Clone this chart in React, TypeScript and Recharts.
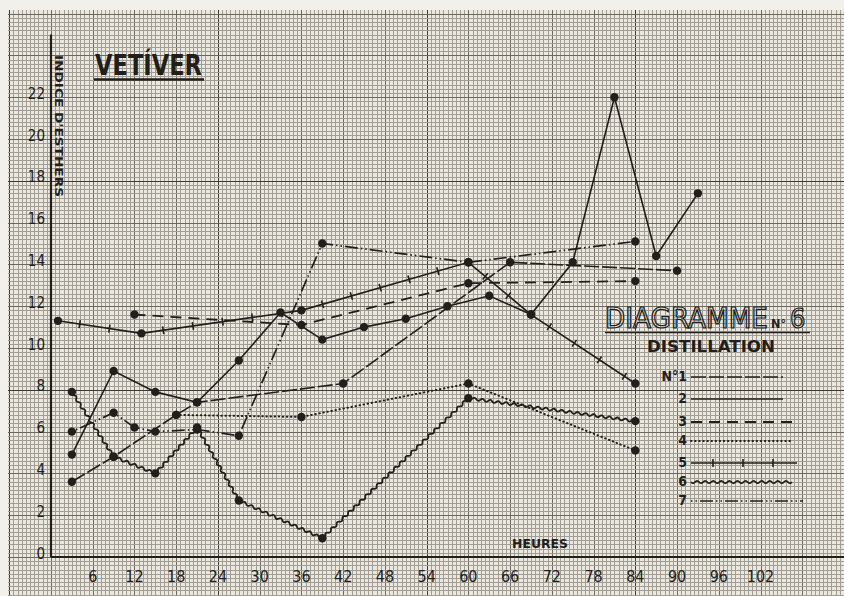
import React from "react";
import { LineChart, Line, XAxis, YAxis, Legend } from "recharts";

const HOUR_TICKS = [6, 12, 18, 24, 30, 36, 42, 48, 54, 60, 66, 72, 78, 84, 90, 96, 102];
const INDEX_TICKS = [0, 2, 4, 6, 8, 10, 12, 14, 16, 18, 20, 22];

const s1Hours = [3, 9, 18, 21, 42, 66, 90];
const s1Values = [3.6, 4.8, 6.8, 7.4, 8.3, 14.1, 13.7];

const s2Hours = [3, 9, 15, 21, 27, 33, 39, 45, 51, 57, 63, 69, 75, 81, 87, 93];
const s2Values = [4.9, 8.9, 7.9, 7.4, 9.4, 11.7, 10.4, 11.0, 11.4, 12.0, 12.5, 11.6, 14.1, 22.0, 14.4, 17.4];

const s3Hours = [12, 36, 60, 84];
const s3Values = [11.6, 11.1, 13.1, 13.2];

const s4Hours = [18, 36, 60, 84];
const s4Values = [6.8, 6.7, 8.3, 5.1];

const s5Hours = [1, 13, 36, 60, 69, 84];
const s5Values = [11.3, 10.7, 11.8, 14.1, 11.6, 8.3];

const s6Hours = [3, 9, 15, 21, 27, 39, 60, 84];
const s6Values = [7.9, 4.8, 4.0, 6.2, 2.7, 0.9, 7.6, 6.5];

const s7Hours = [3, 9, 12, 15, 21, 27, 39, 60, 84];
const s7Values = [6.0, 6.9, 6.2, 6.0, 6.1, 5.8, 15.0, 14.1, 15.1];

const toPoints = (h: number[], v: number[]) => h.map((x, i) => ({ h: x, v: v[i] }));

const W = 844;
const H = 596;
const LEFT = 51;
const TOP = 34.5;
const BOTTOM = 557;
const X_MAX = 114;
const Y_MAX = 25;
const INK = "#221e1b";
const HAND = "'Liberation Sans Narrow', 'DejaVu Sans Condensed', 'Liberation Sans', sans-serif";

// trait ondulé (distillation 6)
function wavyCurve(context: any) {
  let pts: number[][] = [];
  return {
    areaStart() {},
    areaEnd() {},
    lineStart() {
      pts = [];
    },
    point(x: number, y: number) {
      pts.push([x, y]);
    },
    lineEnd() {
      if (!pts.length) return;
      context.moveTo(pts[0][0], pts[0][1]);
      for (let i = 1; i < pts.length; i++) {
        const [x0, y0] = pts[i - 1];
        const [x1, y1] = pts[i];
        const dx = x1 - x0;
        const dy = y1 - y0;
        const len = Math.hypot(dx, dy) || 1;
        const nx = -dy / len;
        const ny = dx / len;
        const n = Math.max(2, Math.round(len / 4));
        for (let k = 0; k < n; k++) {
          const tm = (k + 0.5) / n;
          const t1 = (k + 1) / n;
          const s = k % 2 === 0 ? 2.4 : -2.4;
          context.quadraticCurveTo(x0 + dx * tm + nx * s, y0 + dy * tm + ny * s, x0 + dx * t1, y0 + dy * t1);
        }
      }
    },
  };
}

// trait plein barré de petites croix (distillation 5)
function crossCurve(context: any) {
  let pts: number[][] = [];
  return {
    areaStart() {},
    areaEnd() {},
    lineStart() {
      pts = [];
    },
    point(x: number, y: number) {
      pts.push([x, y]);
    },
    lineEnd() {
      if (!pts.length) return;
      context.moveTo(pts[0][0], pts[0][1]);
      for (let i = 1; i < pts.length; i++) context.lineTo(pts[i][0], pts[i][1]);
      for (let i = 1; i < pts.length; i++) {
        const [x0, y0] = pts[i - 1];
        const [x1, y1] = pts[i];
        const dx = x1 - x0;
        const dy = y1 - y0;
        const len = Math.hypot(dx, dy) || 1;
        const nx = -dy / len;
        const ny = dx / len;
        for (let d = 22; d < len - 8; d += 30) {
          const cx = x0 + (dx * d) / len;
          const cy = y0 + (dy * d) / len;
          context.moveTo(cx - nx * 4, cy - ny * 4);
          context.lineTo(cx + nx * 4, cy + ny * 4);
        }
      }
    },
  };
}

const STYLES: Record<string, any> = {
  "1": { dash: "15 3", width: 1.6 },
  "2": { width: 1.6 },
  "3": { dash: "11 7", width: 1.8 },
  "4": { dash: "0.5 3.6", width: 2, cap: "round" },
  "5": { width: 1.6, curve: crossCurve },
  "6": { width: 1.8, curve: wavyCurve },
  "7": { dash: "1.5 3 1.5 3 13 3", width: 1.7 },
};

const SERIES = [
  { name: "1", data: toPoints(s1Hours, s1Values) },
  { name: "2", data: toPoints(s2Hours, s2Values) },
  { name: "3", data: toPoints(s3Hours, s3Values) },
  { name: "4", data: toPoints(s4Hours, s4Values) },
  { name: "5", data: toPoints(s5Hours, s5Values) },
  { name: "6", data: toPoints(s6Hours, s6Values) },
  { name: "7", data: toPoints(s7Hours, s7Values) },
];

function pathFrom(curve: any, pts: number[][]) {
  let d = "";
  const ctx = {
    moveTo: (x: number, y: number) => (d += `M${x},${y}`),
    lineTo: (x: number, y: number) => (d += `L${x},${y}`),
    quadraticCurveTo: (cx: number, cy: number, x: number, y: number) => (d += `Q${cx},${cy},${x},${y}`),
    closePath: () => (d += "Z"),
  };
  const c = curve(ctx);
  c.lineStart();
  pts.forEach((p) => c.point(p[0], p[1]));
  c.lineEnd();
  return d;
}

// papier millimétré
const Paper = () => {
  const mmX = (6 * (W - LEFT)) / X_MAX / 10;
  const mmY = ((2 * (BOTTOM - TOP)) / Y_MAX) / 10;
  const lines: React.ReactNode[] = [];
  const kind = (k: number) => ((((k - 40) % 50) + 50) % 50 === 0 ? 2 : k % 10 === 0 ? 1 : 0);
  const col = ["#a29d94", "#6c675f", "#3d3935"];
  const wid = [1, 1, 1.6];
  for (let k = Math.floor((8 - LEFT) / mmX); k <= Math.ceil((W - LEFT) / mmX); k++) {
    const x = Math.round(LEFT + k * mmX) + 0.5;
    if (x < 8) continue;
    const t = kind(k);
    lines.push(<line key={"v" + k} x1={x} x2={x} y1={10} y2={H} stroke={col[t]} strokeWidth={wid[t]} shapeRendering="crispEdges" />);
  }
  for (let k = Math.floor((BOTTOM - H) / mmY); k <= Math.ceil((BOTTOM - 10) / mmY); k++) {
    const y = Math.round(BOTTOM - k * mmY) + 0.5;
    if (y < 10) continue;
    const t = kind(k);
    lines.push(<line key={"h" + k} x1={8} x2={W} y1={y} y2={y} stroke={col[t]} strokeWidth={wid[t]} shapeRendering="crispEdges" />);
  }
  return (
    <svg width={W} height={H} style={{ position: "absolute", left: 0, top: 0 }}>
      <rect x={0} y={0} width={W} height={H} fill="#f2f0eb" />
      <rect x={8} y={10} width={W - 8} height={H - 10} fill="#ebe8e0" />
      {lines}
      <text
        x={95}
        y={75}
        fontFamily={HAND}
        fontSize={29}
        fontWeight={700}
        textLength={107}
        lengthAdjust="spacingAndGlyphs"
        fill={INK}
      >
        VETÍVER
      </text>
      <line x1={94} x2={204} y1={79.5} y2={79.5} stroke={INK} strokeWidth={2.4} />
      <text
        transform="translate(55,55) rotate(90)"
        fontFamily={HAND}
        fontSize={10}
        fontWeight={700}
        textLength={142}
        lengthAdjust="spacingAndGlyphs"
        fill={INK}
      >
        INDICE D'ESTHERS
      </text>
      <text
        x={512}
        y={548}
        fontFamily={HAND}
        fontSize={12}
        fontWeight={700}
        textLength={56}
        lengthAdjust="spacingAndGlyphs"
        fill={INK}
      >
        HEURES
      </text>
    </svg>
  );
};

const YTick = (props: any) => (
  <text x={45} y={props.y + 1.5} textAnchor="end" fontFamily={HAND} fontSize={15} fill={INK}>
    {props.payload.value}
  </text>
);

const XTick = (props: any) => (
  <text x={props.x} y={BOTTOM + 25} textAnchor="middle" fontFamily={HAND} fontSize={16} fill={INK}>
    {props.payload.value}
  </text>
);

const ROW_Y = [81, 103, 126, 145, 167, 186, 205];
const ROW_END = [187, 187, 196, 196, 201, 196, 207];

const renderLegend = (props: any) => {
  const items = props.payload || [];
  return (
    <svg width={248} height={230}>
      <text
        x={9}
        y={32}
        fontFamily={HAND}
        fontSize={28}
        textLength={163}
        lengthAdjust="spacingAndGlyphs"
        fill="none"
        stroke={INK}
        strokeWidth={1.2}
      >
        DIAGRAMME
      </text>
      <text x={175} y={32} fontFamily={HAND} fontSize={12} fontWeight={700} textLength={15} lengthAdjust="spacingAndGlyphs" fill={INK}>
        N°
      </text>
      <text x={194} y={32} fontFamily={HAND} fontSize={27} fill="none" stroke={INK} strokeWidth={1.2}>
        6
      </text>
      <line x1={9} x2={214} y1={36.5} y2={36.5} stroke={INK} strokeWidth={1.4} />
      <text
        x={51}
        y={56}
        fontFamily={HAND}
        fontSize={15}
        fontWeight={700}
        textLength={128}
        lengthAdjust="spacingAndGlyphs"
        fill={INK}
      >
        DISTILLATION
      </text>
      {items.map((it: any, i: number) => {
        const st = STYLES[it.value] || {};
        const y = ROW_Y[i];
        const x1 = 95;
        const x2 = ROW_END[i];
        const label = i === 0 ? "N°1" : it.value;
        return (
          <g key={it.value}>
            <text x={91} y={y + 4} textAnchor="end" fontFamily={HAND} fontSize={14} fontWeight={700} fill={INK}>
              {label}
            </text>
            {st.curve ? (
              <path d={pathFrom(st.curve, [[x1, y], [x2, y]])} fill="none" stroke={INK} strokeWidth={st.width} />
            ) : (
              <line
                x1={x1}
                x2={x2}
                y1={y}
                y2={y}
                stroke={INK}
                strokeWidth={st.width}
                strokeDasharray={st.dash}
                strokeLinecap={st.cap || "butt"}
              />
            )}
          </g>
        );
      })}
    </svg>
  );
};

const App: React.FC = () => {
  return (
    <div style={{ position: "fixed", left: 0, top: 0, width: W, height: H, overflow: "hidden" }}>
      <Paper />
      <div style={{ position: "absolute", left: 0, top: 0 }}>
        <LineChart width={W} height={H} margin={{ top: TOP, right: 0, bottom: H - BOTTOM - 30, left: LEFT - 40 }}>
          <XAxis
            type="number"
            dataKey="h"
            domain={[0, X_MAX]}
            ticks={HOUR_TICKS}
            allowDataOverflow
            axisLine={{ stroke: INK, strokeWidth: 2.2 }}
            tickLine={false}
            tick={<XTick />}
            height={30}
          />
          <YAxis
            type="number"
            dataKey="v"
            domain={[0, Y_MAX]}
            ticks={INDEX_TICKS}
            allowDataOverflow
            axisLine={{ stroke: INK, strokeWidth: 2.2 }}
            tickLine={false}
            tick={<YTick />}
            width={40}
          />
          <Legend
            layout="horizontal"
            verticalAlign="middle"
            align="center"
            content={renderLegend}
            wrapperStyle={{ left: 596, top: 296, width: 248, height: 230 }}
          />
          {SERIES.map((s) => {
            const st = STYLES[s.name];
            return (
              <Line
                key={s.name}
                name={s.name}
                data={s.data}
                dataKey="v"
                type={st.curve || "linear"}
                stroke={INK}
                strokeWidth={st.width}
                strokeDasharray={st.dash}
                strokeLinecap={st.cap || "butt"}
                dot={{ r: 4.2, fill: INK, stroke: "none" }}
                activeDot={false}
                isAnimationActive={false}
              />
            );
          })}
        </LineChart>
      </div>
    </div>
  );
};

export default App;
